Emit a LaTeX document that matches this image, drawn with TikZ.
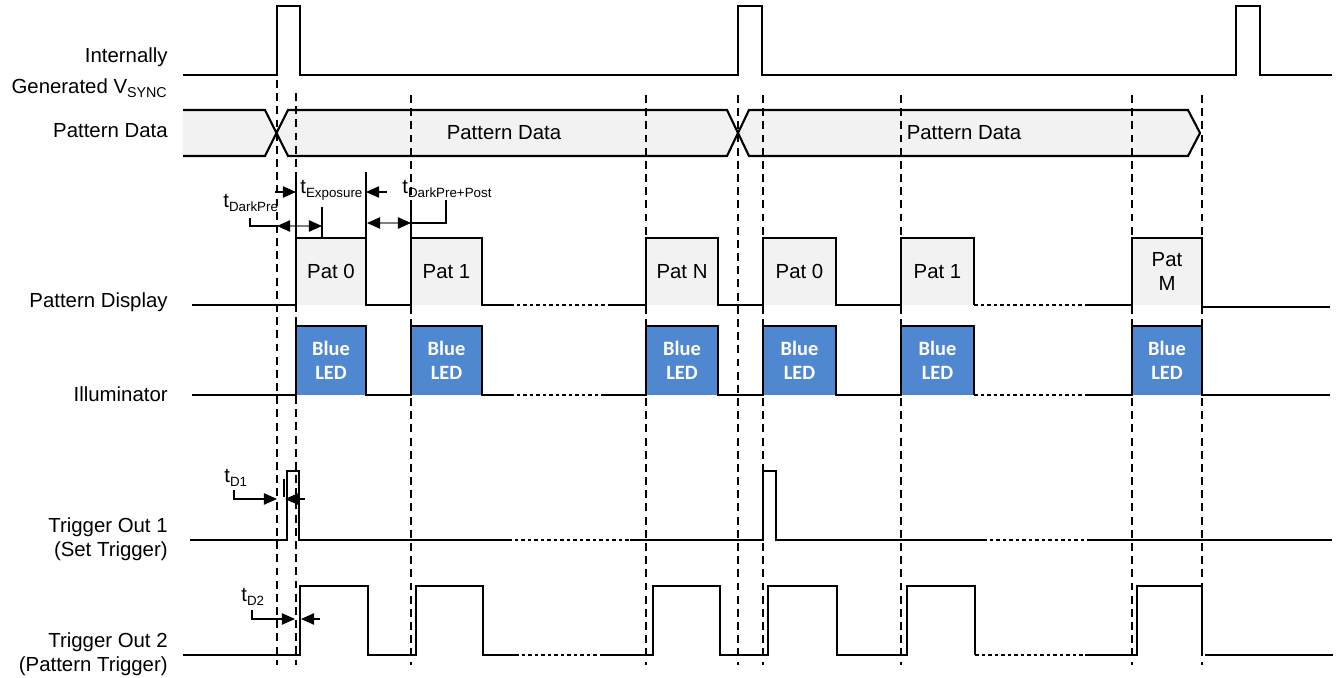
\documentclass[tikz,border=0pt]{standalone}
\usepackage{fontspec}
\setmainfont{Liberation Sans}
\newfontfamily\ledfont{Carlito}
\usepackage{xcolor}
\usetikzlibrary{arrows.meta,calc}
\definecolor{patgray}{RGB}{242,242,242}
\definecolor{ledblue}{RGB}{79,136,208}
\newcommand{\tsub}[1]{\textsubscript{\fontsize{7.6}{8}\selectfont #1}}

\begin{document}
\begin{tikzpicture}[x=0.02cm, y=-0.02cm,
	>={Triangle[length=7.5pt,width=6.5pt,color=black]},
	sig/.style={line width=1.2pt},
	gap/.style={line width=1.2pt, dash pattern=on 2pt off 1.7pt},
	guide/.style={line width=0.6pt, dash pattern=on 4.5pt off 3pt},
	dim/.style={line width=0.8pt},
	lbl/.style={anchor=base east, inner sep=0pt, font=\fontsize{11.6}{14}\selectfont},
	tlbl/.style={anchor=base west, inner sep=0pt, font=\fontsize{11.6}{14}\selectfont},
	patbox/.style={fill=patgray, minimum height=1.34cm, inner sep=0pt, align=center, font=\fontsize{11.6}{14.2}\selectfont},
	ledbox/.style={fill=ledblue, text=white, minimum height=1.38cm, inner sep=0pt, align=center, font=\ledfont\bfseries\fontsize{11.6}{13.6}\selectfont}]
			\useasboundingbox (0,0) rectangle (1336,678);
			
			% row names
			\node[lbl] (vs1) at (168,63) {Internally};
			\node[lbl] (vs2) at (168,94) {Generated V\textsubscript{SYNC}};
			\node[lbl] (bus) at (168,138) {Pattern Data};
			\node[lbl] (disp) at (168,308) {Pattern Display};
			\node[lbl] (illum) at (168,402) {Illuminator};
			\node[lbl] (trg1) at (168,533) {Trigger Out 1};
			\node[lbl] (trg1b) at (168,557) {(Set Trigger)};
			\node[lbl] (trg2) at (168,648) {Trigger Out 2};
			\node[lbl] (trg2b) at (168,672) {(Pattern Trigger)};
			
			% pattern data bus
			\fill[patgray] (183,110) -- (265,110) -- (277,133) -- (265,156) -- (183,156) -- cycle;
			\fill[patgray] (277,133) -- (288,110) -- (727,110) -- (738,133) -- (727,156) -- (288,156) -- cycle;
			\fill[patgray] (738,133) -- (749,110) -- (1188,110) -- (1200,133) -- (1188,156) -- (749,156) -- cycle;
			\node[font=\fontsize{11.6}{14}\selectfont] (data1) at (504,133) {Pattern Data};
			\node[font=\fontsize{11.6}{14}\selectfont] (data2) at (964,133) {Pattern Data};
			
			% pattern boxes
			\node[patbox, minimum width=1.4cm] (pat0) at (331,271.5) {Pat 0};
			\node[patbox, minimum width=1.42cm] (pat1) at (446.5,271.5) {Pat 1};
			\node[patbox, minimum width=1.44cm] (patn) at (682,271.5) {Pat N};
			\node[patbox, minimum width=1.46cm] (pat0b) at (799.5,271.5) {Pat 0};
			\node[patbox, minimum width=1.46cm] (pat1b) at (937.5,271.5) {Pat 1};
			\node[patbox, minimum width=1.4cm] (patm) at (1167,271.5) {Pat\\M};
			
			% led boxes
			\node[ledbox, minimum width=1.4cm] (led0) at (331,360.5) {Blue\\LED};
			\node[ledbox, minimum width=1.42cm] (led1) at (446.5,360.5) {Blue\\LED};
			\node[ledbox, minimum width=1.44cm] (ledn) at (682,360.5) {Blue\\LED};
			\node[ledbox, minimum width=1.46cm] (led0b) at (799.5,360.5) {Blue\\LED};
			\node[ledbox, minimum width=1.46cm] (led1b) at (937.5,360.5) {Blue\\LED};
			\node[ledbox, minimum width=1.4cm] (ledm) at (1167,360.5) {Blue\\LED};
			
			% guides
			\draw[guide] (277,80) -- (277,665);
			\draw[guide] (296,93) -- (296,665);
			\draw[guide] (411,95) -- (411,665);
			\draw[guide] (646,95) -- (646,665);
			\draw[guide] (738,95) -- (738,665);
			\draw[guide] (763,95) -- (763,665);
			\draw[guide] (901,95) -- (901,665);
			\draw[guide] (1132,95) -- (1132,665);
			\draw[guide] (1202,95) -- (1202,665);
			
			% vsync
			\draw[sig] (183,75) -- (277,75) -- (277,6) -- (300,6) -- (300,75) -- (738,75) -- (738,6) -- (762,6) -- (762,75) -- (1236,75) -- (1236,6) -- (1260,6) -- (1260,75) -- (1332,75);
			
			% bus outline
			\draw[sig] (183,110) -- (265,110) -- (288,156) -- (727,156) -- (749,110) -- (1188,110) -- (1200,133) -- (1188,156) -- (749,156) -- (727,110) -- (288,110) -- (265,156) -- (183,156);
			
			% pattern display
			\draw[sig] (192,305) -- (296,305) -- (296,238) -- (366,238) -- (366,305) -- (411,305) -- (411,238) -- (482,238) -- (482,305) -- (510,305);
			\draw[gap] (510,305) -- (610,305);
			\draw[sig] (610,305) -- (646,305) -- (646,238) -- (718,238) -- (718,305) -- (763,305) -- (763,238) -- (836,238) -- (836,305) -- (901,305) -- (901,238) -- (974,238) -- (974,305);
			\draw[gap] (974,305) -- (1085,305);
			\draw[sig] (1085,305) -- (1132,305) -- (1132,238) -- (1202,238) -- (1202,307) -- (1330,307);
			
			% illuminator
			\draw[sig] (192,395) -- (296,395) -- (296,326) -- (366,326) -- (366,395) -- (411,395) -- (411,326) -- (482,326) -- (482,395) -- (510,395);
			\draw[gap] (510,395) -- (605,395);
			\draw[sig] (605,395) -- (646,395) -- (646,326) -- (718,326) -- (718,395) -- (763,395) -- (763,326) -- (836,326) -- (836,395) -- (901,395) -- (901,326) -- (974,326) -- (974,395);
			\draw[gap] (974,395) -- (1085,395);
			\draw[sig] (1085,395) -- (1132,395) -- (1132,326) -- (1202,326) -- (1202,395) -- (1330,395);
			
			% trigger out 1
			\draw[sig] (190,540) -- (287,540) -- (287,471) -- (299,471) -- (299,540) -- (508,540);
			\draw[gap] (508,540) -- (630,540);
			\draw[sig] (630,540) -- (763,540) -- (763,471) -- (776,471) -- (776,540) -- (983,540);
			\draw[gap] (983,540) -- (1090,540);
			\draw[sig] (1090,540) -- (1332,540);
			
			% trigger out 2
			\draw[sig] (183,655) -- (300,655) -- (300,586) -- (368,586) -- (368,655) -- (416,655) -- (416,586) -- (483,586) -- (483,655) -- (515,655);
			\draw[gap] (515,655) -- (603,655);
			\draw[sig] (603,655) -- (653,655) -- (653,586) -- (720,586) -- (720,655) -- (768,655) -- (768,586) -- (837,586) -- (837,655) -- (907,655) -- (907,586) -- (975,586) -- (975,655);
			\draw[gap] (975,655) -- (1085,655);
			\draw[sig] (1085,655) -- (1137,655) -- (1137,586) -- (1202,586) -- (1202,655);
			\draw[sig] (1205,655) -- (1333,655);
			
			% timing marks
			\node[tlbl] (tdp) at (223,208) {t\tsub{DarkPre}};
			\draw[dim] (250,218) -- (250,226) -- (277,226);
			\draw[dim, gray, <->] (277,226) -- (322,226);
			\draw[dim] (322,207) -- (322,238);
			
			\node[tlbl] (texp) at (300,194) {t\tsub{Exposure}};
			\draw[dim, ->] (275,192) -- (296,192);
			\draw[dim] (296,180) -- (296,238);
			\draw[dim, ->] (387,192) -- (366,192);
			\draw[dim] (366,172) -- (366,238);
			
			\node[tlbl] (tdpp) at (402,194) {t\tsub{DarkPre+Post}};
			\draw[dim] (446,200) -- (446,223) -- (411,223);
			\draw[dim, gray, <->] (367,223) -- (411,223);
			\draw[dim] (411,202) -- (411,238);
			
			\node[tlbl] (td1) at (224,483) {t\tsub{D1}};
			\draw[dim, ->] (234,490) -- (234,499) -- (277,499);
			\draw[dim, ->] (305,499) -- (285,499);
			\draw[dim] (284,479) -- (284,497);
			
			\node[tlbl] (td2) at (241,602) {t\tsub{D2}};
			\draw[dim, ->] (252,610) -- (252,619) -- (295,619);
			\draw[dim, ->] (320,619) -- (301,619);
		\end{tikzpicture}
\end{document}
